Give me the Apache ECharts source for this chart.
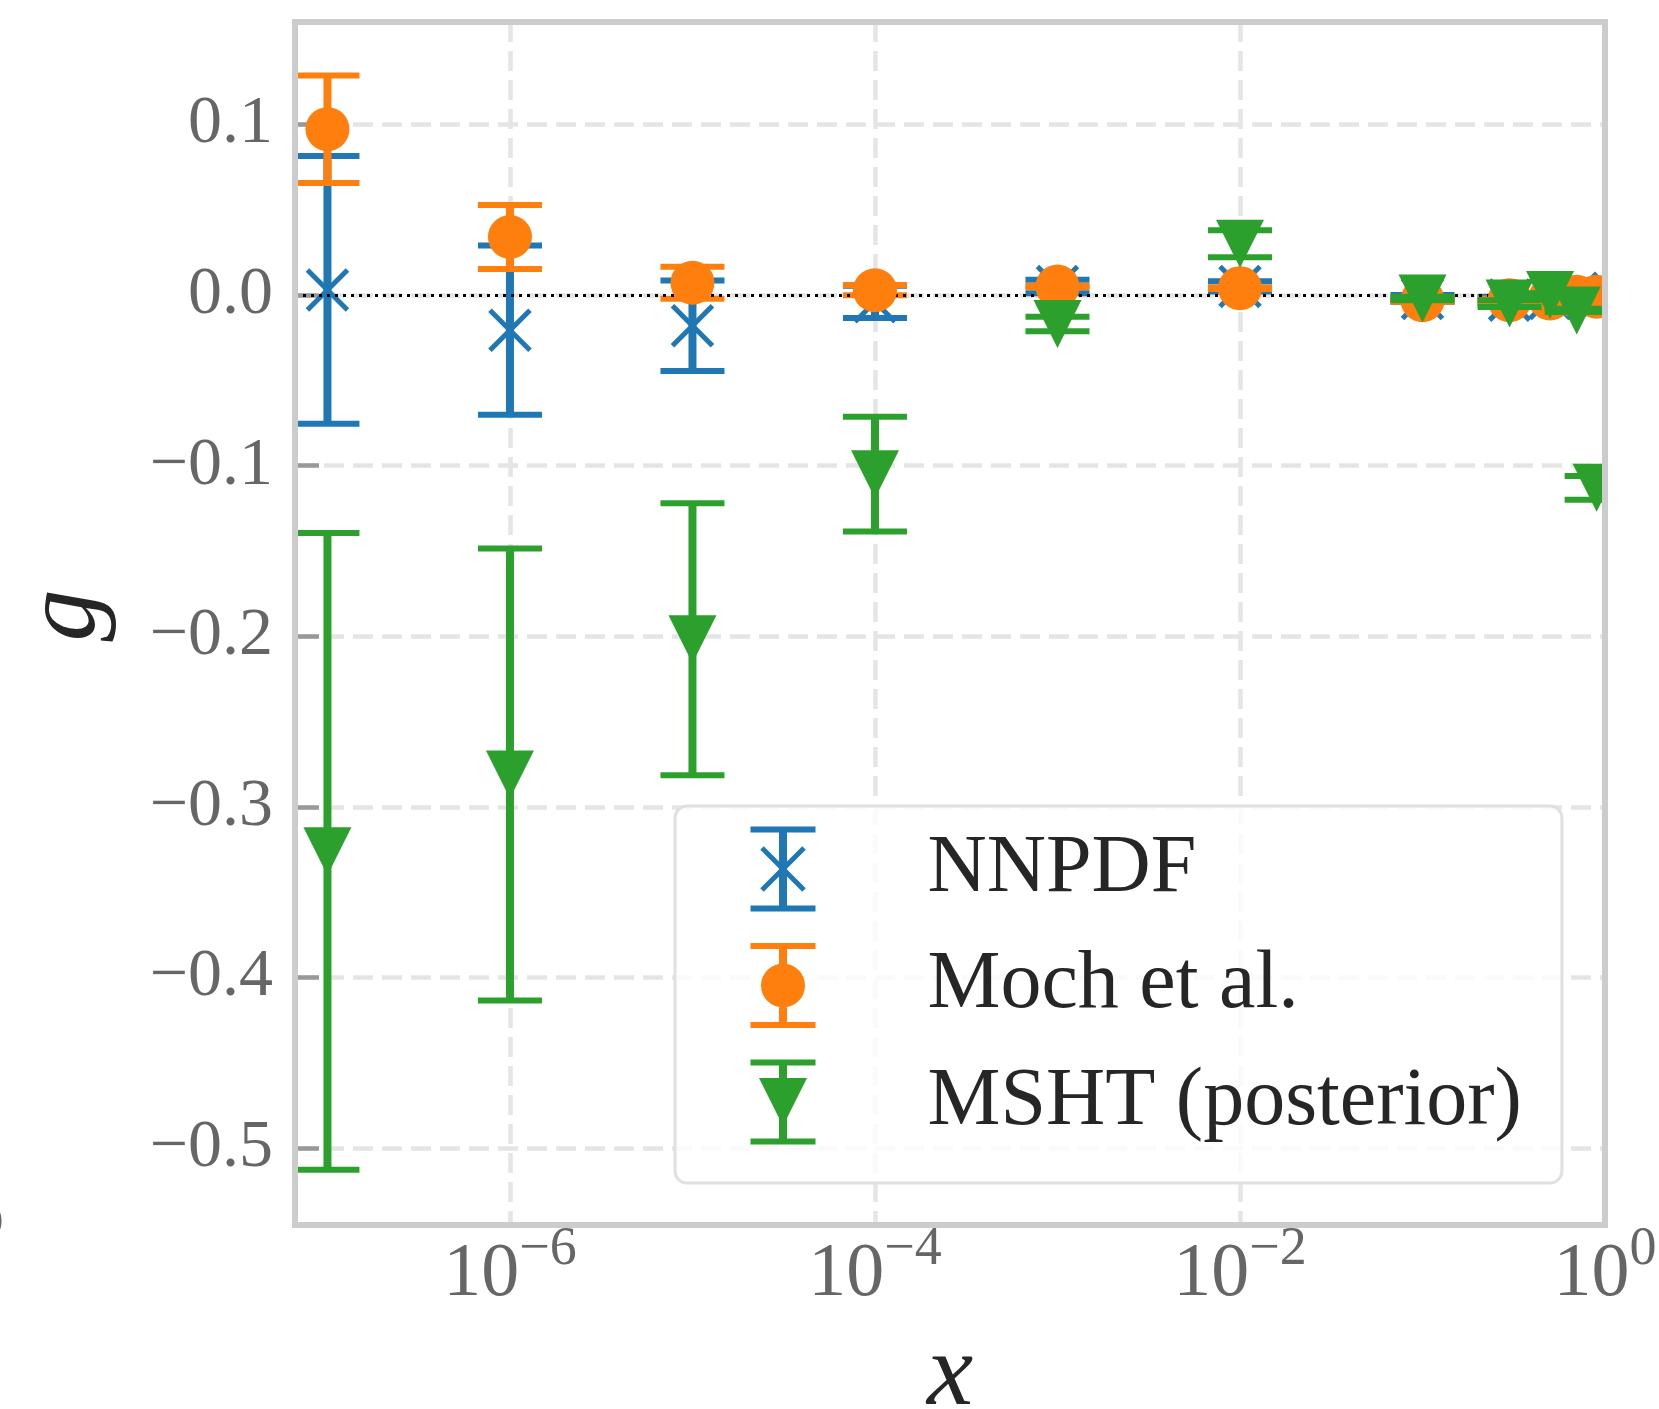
<!DOCTYPE html>
<html>
<head>
<meta charset="utf-8">
<script src="https://cdn.jsdelivr.net/npm/echarts@6/dist/echarts.min.js"></script>
<style>
html,body{margin:0;padding:0;background:#ffffff;}
#chart{width:1659px;height:1409px;}
</style>
</head>
<body>
<div id="chart"></div>
<script>
// ---------- data ----------
const xValues      = [1e-7, 1e-6, 1e-5, 1e-4, 1e-3, 1e-2, 0.1, 0.3, 0.5, 0.7, 0.9];
const nnpdfValues  = [0.003, -0.0206, -0.018, -0.004, 0.005, 0.005, -0.002, -0.003, -0.002, 0.001, -0.001];
const nnpdfErrors  = [0.0784, 0.0496, 0.0265, 0.0095, 0.004, 0.003, 0.002, 0.002, 0.002, 0.002, 0.002];
const mochValues   = [0.0972, 0.034, 0.0072, 0.0028, 0.005, 0.004, -0.003, -0.003, -0.002, -0.001, -0.001];
const mochErrors   = [0.0315, 0.0188, 0.0094, 0.003, 0.0005, 0.0005, 0.001, 0.001, 0.001, 0.001, 0.001];
const mshtValues   = [-0.326, -0.281, -0.2017, -0.105, -0.017, 0.030, -0.002, -0.005, 0.000, -0.009, -0.113];
const mshtErrors   = [0.1866, 0.1325, 0.0797, 0.0336, 0.0042, 0.0079, 0.001, 0.002, 0.001, 0.001, 0.007];

const seriesNames  = ['NNPDF', 'Moch et al.', 'MSHT (posterior)'];
const xTickValues  = [1e-6, 1e-4, 1e-2, 1];
const xTickExps    = ['\u22126', '\u22124', '\u22122', '0'];
const yTickValues  = [-0.5, -0.4, -0.3, -0.2, -0.1, 0.0, 0.1];
const yTickLabels  = ['\u22120.5', '\u22120.4', '\u22120.3', '\u22120.2', '\u22120.1', '0.0', '0.1'];

// ---------- styling ----------
const BLUE = '#1f77b4', ORANGE = '#ff7f0e', GREEN = '#2ca02c';
const SERIF = 'Liberation Serif';
const TICK_COLOR = '#666666';
const GRID_LINE = {color: '#e5e5e5', width: 4.5, type: [20, 9]};

const CAPS = 'M0,0L65,0L65,6L0,6Z M0,79L65,79L65,85L0,85Z M28.5,0L36.5,0L36.5,85L28.5,85Z ';
const ICON_BLUE = 'path://' + CAPS +
  'M13.27,19.73L55.27,61.73L51.73,65.27L9.73,23.27Z M55.27,23.27L13.27,65.27L9.73,61.73L51.73,19.73Z';
const ICON_ORANGE = 'path://' + CAPS + 'M54.5,42.5A22,22 0 1 1 10.5,42.5A22,22 0 1 1 54.5,42.5Z';
const ICON_GREEN = 'path://' + CAPS + 'M8.5,18.5L56.5,18.5L32.5,66.5Z';

function errorBarSeries(name, color, values, errors, z) {
  return {
    type: 'custom',
    name: name,
    z: z,
    silent: true,
    itemStyle: {color: color},
    dimensions: ['x', 'y', 'err'],
    encode: {x: 0, y: 1},
    data: xValues.map((x, i) => [x, values[i], errors[i]]),
    renderItem: function (params, api) {
      const x = api.value(0), y = api.value(1), e = api.value(2);
      const top = api.coord([x, y + e]);
      const bot = api.coord([x, y - e]);
      const half = 32;
      return {
        type: 'group',
        children: [
          {type: 'line', shape: {x1: top[0], y1: top[1], x2: bot[0], y2: bot[1]},
           style: {stroke: color, lineWidth: 8}},
          {type: 'line', shape: {x1: top[0] - half, y1: top[1], x2: top[0] + half, y2: top[1]},
           style: {stroke: color, lineWidth: 6}},
          {type: 'line', shape: {x1: bot[0] - half, y1: bot[1], x2: bot[0] + half, y2: bot[1]},
           style: {stroke: color, lineWidth: 6}}
        ]
      };
    }
  };
}

function xLabel(v) {
  const i = xTickValues.findIndex(t => Math.abs(Math.log10(t) - Math.log10(v)) < 1e-6);
  return i < 0 ? '' : '{base|10}{sup|' + xTickExps[i] + '}';
}
function yLabel(v) {
  const i = yTickValues.findIndex(t => Math.abs(t - v) < 1e-9);
  return i < 0 ? '' : yTickLabels[i];
}

const chart = echarts.init(document.getElementById('chart'), null, {renderer: 'canvas'});
chart.setOption({
  animation: false,
  backgroundColor: '#ffffff',
  grid: {
    left: 295, right: 54, top: 22, bottom: 184,
    containLabel: false, outerBoundsMode: 'none',
    show: true, borderColor: '#cccccc', borderWidth: 6,
    backgroundColor: 'transparent', z: 30
  },
  xAxis: {
    type: 'log', logBase: 10, min: 6.64e-8, max: 1,
    axisLine: {show: false},
    axisTick: {show: true, inside: true, length: 24, customValues: xTickValues,
               lineStyle: {color: '#999999', width: 4.5}},
    minorTick: {show: false},
    splitLine: {show: true, lineStyle: GRID_LINE},
    axisLabel: {
      customValues: xTickValues, margin: -2, color: TICK_COLOR,
      fontFamily: SERIF, fontSize: 76, formatter: xLabel, hideOverlap: false,
      rich: {
        base: {fontSize: 76, fontFamily: SERIF, lineHeight: 90, verticalAlign: 'bottom', color: TICK_COLOR},
        sup: {fontSize: 54, fontFamily: SERIF, lineHeight: 57, verticalAlign: 'top', color: TICK_COLOR}
      }
    },
    name: 'x', nameLocation: 'middle', nameGap: 100,
    nameTextStyle: {fontFamily: SERIF, fontStyle: 'italic', fontSize: 104, color: '#262626'}
  },
  yAxis: {
    type: 'value', min: -0.545, max: 0.16,
    axisLine: {show: false},
    axisTick: {show: true, inside: true, length: 24, customValues: yTickValues,
               lineStyle: {color: '#999999', width: 4.5}},
    splitLine: {show: true, lineStyle: GRID_LINE},
    axisLabel: {customValues: yTickValues, margin: 22, color: TICK_COLOR,
                fontFamily: SERIF, fontSize: 68, formatter: yLabel},
    name: 'g', nameLocation: 'middle', nameGap: 176, nameRotate: 90,
    nameTextStyle: {fontFamily: SERIF, fontStyle: 'italic', fontSize: 104, color: '#262626',
                    padding: [0, 0, 0, 16]}
  },
  legend: {
    orient: 'vertical', left: 675, top: 806, selectedMode: false,
    data: [
      {name: seriesNames[0], icon: ICON_BLUE},
      {name: seriesNames[1], icon: ICON_ORANGE},
      {name: seriesNames[2], icon: ICON_GREEN}
    ],
    itemWidth: 65, itemHeight: 85, itemGap: 31.5,
    padding: [20.5, 40, 38.5, 75.5],
    backgroundColor: 'rgba(255,255,255,0.8)', borderColor: '#e0e0e0', borderWidth: 3, borderRadius: 12,
    textStyle: {fontFamily: SERIF, fontSize: 82, color: '#262626', padding: [0, 0, 0, 107]},
    z: 40
  },
  graphic: [
    {type: 'rect', z: 25, shape: {x: 1608, y: 0, width: 60, height: 1228}, style: {fill: '#ffffff'}},
    {type: 'text', z: 25, x: -17, y: 1203, style: {text: '0', fill: TICK_COLOR, font: '40px "Liberation Serif"'}}
  ],
  series: [
    {
      type: 'line', name: 'zero', data: [], z: 1, silent: true,
      markLine: {silent: true, symbol: 'none', label: {show: false},
                 lineStyle: {color: '#000000', type: [3, 5], width: 3},
                 data: [{yAxis: 0}]}
    },
    errorBarSeries(seriesNames[0], BLUE, nnpdfValues, nnpdfErrors, 2),
    {
      type: 'scatter', name: seriesNames[0], z: 3, silent: true,
      symbol: 'path://M0,0L10,10M10,0L0,10', symbolSize: 40,
      itemStyle: {color: 'none', borderColor: BLUE, borderWidth: 5, opacity: 1},
      data: xValues.map((x, i) => [x, nnpdfValues[i]])
    },
    errorBarSeries(seriesNames[1], ORANGE, mochValues, mochErrors, 4),
    {
      type: 'scatter', name: seriesNames[1], z: 5, silent: true,
      symbol: 'circle', symbolSize: 44,
      itemStyle: {color: ORANGE, opacity: 1},
      data: xValues.map((x, i) => [x, mochValues[i]])
    },
    errorBarSeries(seriesNames[2], GREEN, mshtValues, mshtErrors, 6),
    {
      type: 'scatter', name: seriesNames[2], z: 7, silent: true,
      symbol: 'triangle', symbolRotate: 180, symbolSize: [48, 48],
      itemStyle: {color: GREEN, opacity: 1},
      data: xValues.map((x, i) => [x, mshtValues[i]])
    }
  ]
});
</script>
</body>
</html>
